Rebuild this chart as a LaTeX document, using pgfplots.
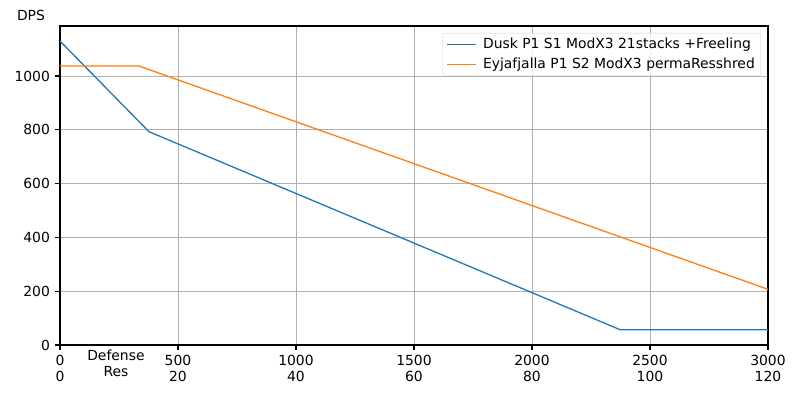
\documentclass[border=0pt]{standalone}
\usepackage{fontspec}
\setmainfont{DejaVu Sans}
\usepackage{pgfplots}
\pgfplotsset{compat=1.18}
\definecolor{tabblue}{HTML}{1F77B4}
\definecolor{taborange}{HTML}{FF7F0E}
\definecolor{gridgray}{HTML}{B0B0B0}
\definecolor{leggray}{HTML}{CCCCCC}
\newcommand{\tfont}{\fontsize{13.9}{16}\selectfont}
\begin{document}
\tfont
\begin{tikzpicture}
\begin{axis}[
  scale only axis, width=708pt, height=319pt,
  xmin=0, xmax=3000, ymin=0, ymax=1186,
  axis line style={line width=1.1pt},
  every tick/.style={black, line width=1.1pt},
  tick align=outside, major tick length=4.9pt,
  xtick pos=bottom, ytick pos=left,
  xtick={0,500,1000,1500,2000,2500,3000},
  xticklabels={{0\\0},{500\\20},{1000\\40},{1500\\60},{2000\\80},{2500\\100},{3000\\120}},
  xticklabel style={align=center, font=\tfont, inner sep=0pt, yshift=-5pt},
  extra x ticks={237},
  extra x tick labels={{Defense\\Res}},
  extra x tick style={major tick length=0pt, grid=none, xticklabel style={yshift=0pt}},
  ytick={0,200,400,600,800,1000},
  yticklabel style={font=\tfont, inner sep=0pt, xshift=-5pt},
  /pgf/number format/assume math mode=true,
  /pgf/number format/1000 sep={},
  grid=major,
  major grid style={color=gridgray, line width=0.9pt},
  legend style={at={(1,1)}, anchor=north east, xshift=-7pt, yshift=-7pt,
    draw=leggray, fill=white, fill opacity=0.8, text opacity=1, rounded corners=2pt,
    font=\tfont, row sep=3pt, inner xsep=4pt, inner ysep=3pt,
    /tikz/every even column/.append style={column sep=6pt}},
  legend cell align=left,
  legend image code/.code={\draw[#1, line width=1.3pt] (0pt,0pt) -- (29pt,0pt);},
  clip=true,
]
\addplot[tabblue, line width=1.3pt] coordinates {(0,1130) (377,793) (2373,57) (3000,57)};
\addlegendentry{\hspace{4pt}Dusk P1 S1 ModX3 21stacks +Freeling}
\addplot[taborange, line width=1.3pt] coordinates {(0,1037) (335,1037) (3000,207)};
\addlegendentry{\hspace{4pt}Eyjafjalla P1 S2 ModX3 permaResshred}
\coordinate (sw) at (rel axis cs:0,0);
\coordinate (ne) at (rel axis cs:1,1);
\end{axis}
\node[font=\tfont, inner sep=0pt] at ([xshift=-29pt, yshift=11pt]ne -| sw) {DPS};
\pgfresetboundingbox
\path[use as bounding box] ([xshift=-60pt,yshift=-55pt]sw) rectangle ([xshift=32pt,yshift=26pt]ne);
\end{tikzpicture}
\end{document}
